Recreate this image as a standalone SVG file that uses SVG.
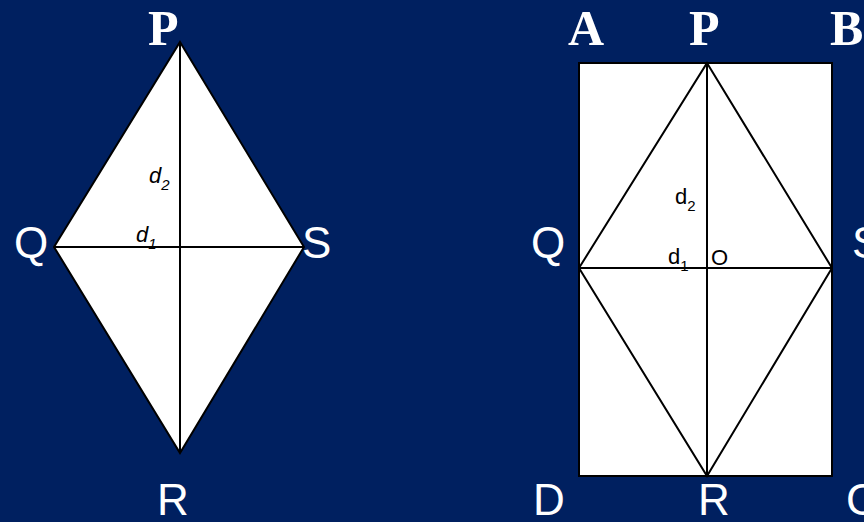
<svg xmlns="http://www.w3.org/2000/svg" width="864" height="522" viewBox="0 0 864 522">
<style>
.ln{stroke:#000;stroke-width:2;fill:none}
.sh{fill:#fff;stroke:#000;stroke-width:2;stroke-linejoin:miter}
.ser{font-family:"Liberation Serif",serif;font-weight:bold;font-size:50px;fill:#fff}
.san{font-family:"Liberation Sans",sans-serif;font-size:44px;fill:#fff}
.lab{font-family:"Liberation Sans",sans-serif;font-size:22px;fill:#000}
.sub{font-size:15px}
</style>
<rect x="0" y="0" width="864" height="522" fill="#002060"/>
<g id="rhombus1">
<polygon class="sh" points="180,42 304,247 180,453 54,247"/>
<g class="lines">
<line class="ln" x1="180" y1="42" x2="180" y2="453"/>
<line class="ln" x1="54" y1="247" x2="304" y2="247"/>
</g>
<text class="lab" x="149" y="183" font-style="italic">d<tspan class="sub" dy="7">2</tspan></text>
<text class="lab" x="136" y="242" font-style="italic">d<tspan class="sub" dy="7">1</tspan></text>
<text class="ser" x="148" y="45">P</text>
<text class="san" x="14" y="258">Q</text>
<text class="san" x="302" y="258">S</text>
<text class="san" x="157" y="515">R</text>
</g>
<g id="rect1">
<rect class="sh" x="579" y="63" width="253" height="413"/>
<g class="lines">
<polygon class="ln" points="707,63 832,268 707,476 579,268"/>
<line class="ln" x1="707" y1="63" x2="707" y2="476"/>
<line class="ln" x1="579" y1="268" x2="832" y2="268"/>
</g>
<text class="lab" x="675" y="204">d<tspan class="sub" dy="7">2</tspan></text>
<text class="lab" x="668" y="264">d<tspan class="sub" dy="7">1</tspan></text>
<text class="lab" x="711" y="265">O</text>
<text class="ser" x="568" y="45">A</text>
<text class="ser" x="689" y="45">P</text>
<text class="ser" x="830" y="45">B</text>
<text class="san" x="531" y="258">Q</text>
<text class="san" x="852" y="258">S</text>
<text class="san" x="533" y="515">D</text>
<text class="san" x="698" y="515">R</text>
<text class="san" x="846" y="515">C</text>
</g>
</svg>
